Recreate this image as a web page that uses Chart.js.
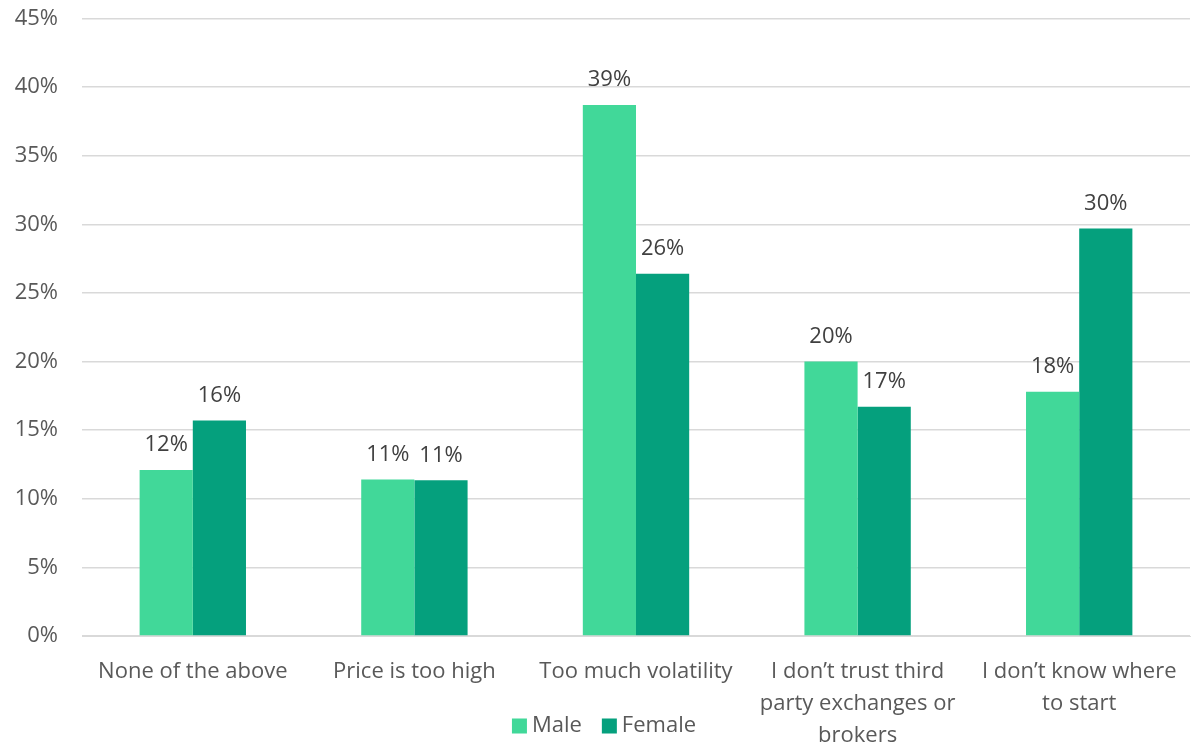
<!DOCTYPE html>
<html>
<head>
<meta charset="utf-8">
<script src="https://cdn.jsdelivr.net/npm/chart.js@4"></script>
<style>
    html, body {
        margin: 0;
        padding: 0;
        background: #ffffff;
    }
    #wrap {
        width: 1196px;
        height: 743px;
        position: relative;
    }
</style>
</head>
<body>
<div id="wrap">
    <canvas id="barChart"></canvas>
</div>
<script>

const CATEGORIAS = [
    "None of the above",
    "Price is too high",
    "Too much volatility",
    ["I don\u2019t trust third", "party exchanges or", "brokers"],
    ["I don\u2019t know where", "to start"]
];

const MALE = [12.1, 11.4, 38.7, 20.0, 17.8];
const FEMALE = [15.7, 11.35, 26.4, 16.7, 29.7];

const TICKS_Y = [0, 5, 10, 15, 20, 25, 30, 35, 40, 45];

const FUENTE = "'Open Sans', sans-serif";
const TAM = 22;

// etiquetas de valor encima de cada barra
const etiquetasPlugin = {
    id: "etiquetas",
    afterDatasetsDraw(chart) {
        const ctx = chart.ctx;
        ctx.save();
        ctx.font = TAM + "px " + FUENTE;
        ctx.fillStyle = "#404040";
        ctx.textAlign = "center";
        ctx.textBaseline = "middle";
        chart.data.datasets.forEach((ds, i) => {
            const meta = chart.getDatasetMeta(i);
            meta.data.forEach((bar, j) => {
                ctx.fillText(
                    Math.round(ds.data[j]) + "%",
                    bar.x,
                    bar.y - 25
                );
            });
        });
        ctx.restore();
    }
};

// leyenda dibujada a mano, solapada con las etiquetas del eje x
const leyendaPlugin = {
    id: "leyendaAbajo",
    afterDraw(chart) {
        const ctx = chart.ctx;
        ctx.save();
        ctx.font = TAM + "px " + FUENTE;
        ctx.textBaseline = "middle";
        const caja = 15;
        const hueco = 5;
        const sep = 20;
        const items = chart.data.datasets.map(ds => ({
            texto: ds.label,
            color: ds.backgroundColor,
            ancho: caja + hueco + ctx.measureText(ds.label).width
        }));
        const total = items.reduce((s, it) => s + it.ancho, 0) +
            sep * (items.length - 1);
        let x = 604 - total / 2;
        const y = 726;
        items.forEach(it => {
            ctx.fillStyle = it.color;
            ctx.fillRect(x, y - caja / 2, caja, caja);
            ctx.fillStyle = "#595959";
            ctx.fillText(it.texto, x + caja + hueco, y);
            x += it.ancho + sep;
        });
        ctx.restore();
    }
};

const ctx = document.getElementById("barChart");

window.barChartInstance = new Chart(ctx, {

    type: "bar",

    data: {
        labels: CATEGORIAS,
        datasets: [
            {
                label: "Male",
                data: MALE,
                backgroundColor: "#41d899"
            },
            {
                label: "Female",
                data: FEMALE,
                backgroundColor: "#05a07d"
            }
        ]
    },

    options: {
        responsive: true,
        maintainAspectRatio: false,
        animation: false,
        datasets: {
            bar: {
                barPercentage: 1,
                categoryPercentage: 0.48
            }
        },
        layout: {
            padding: { top: 0, right: 6, bottom: 0, left: 13 }
        },
        plugins: {
            legend: { display: false },
            tooltip: { enabled: false }
        },
        scales: {
            x: {
                grid: { display: false },
                border: { color: "#d9d9d9" },
                afterFit(axis) {
                    axis.height = 107;
                    axis.paddingLeft = 0;
                    axis.paddingRight = 0;
                },
                ticks: {
                    maxRotation: 0,
                    autoSkip: false,
                    padding: 12,
                    color: "#595959",
                    font: { size: TAM, family: FUENTE, lineHeight: 1.45 }
                }
            },
            y: {
                min: 0,
                max: 45,
                afterBuildTicks(axis) {
                    axis.ticks = TICKS_Y.map(v => ({ value: v }));
                },
                afterFit(axis) {
                    axis.paddingTop = 18.5;
                    axis.width = 69;
                },
                border: { display: false },
                grid: {
                    color: "#d9d9d9",
                    lineWidth: 1.5,
                    drawTicks: false
                },
                ticks: {
                    padding: 24,
                    color: "#595959",
                    font: { size: TAM, family: FUENTE },
                    callback: v => v + "%"
                }
            }
        }
    },

    plugins: [etiquetasPlugin, leyendaPlugin]

});

</script>
</body>
</html>
